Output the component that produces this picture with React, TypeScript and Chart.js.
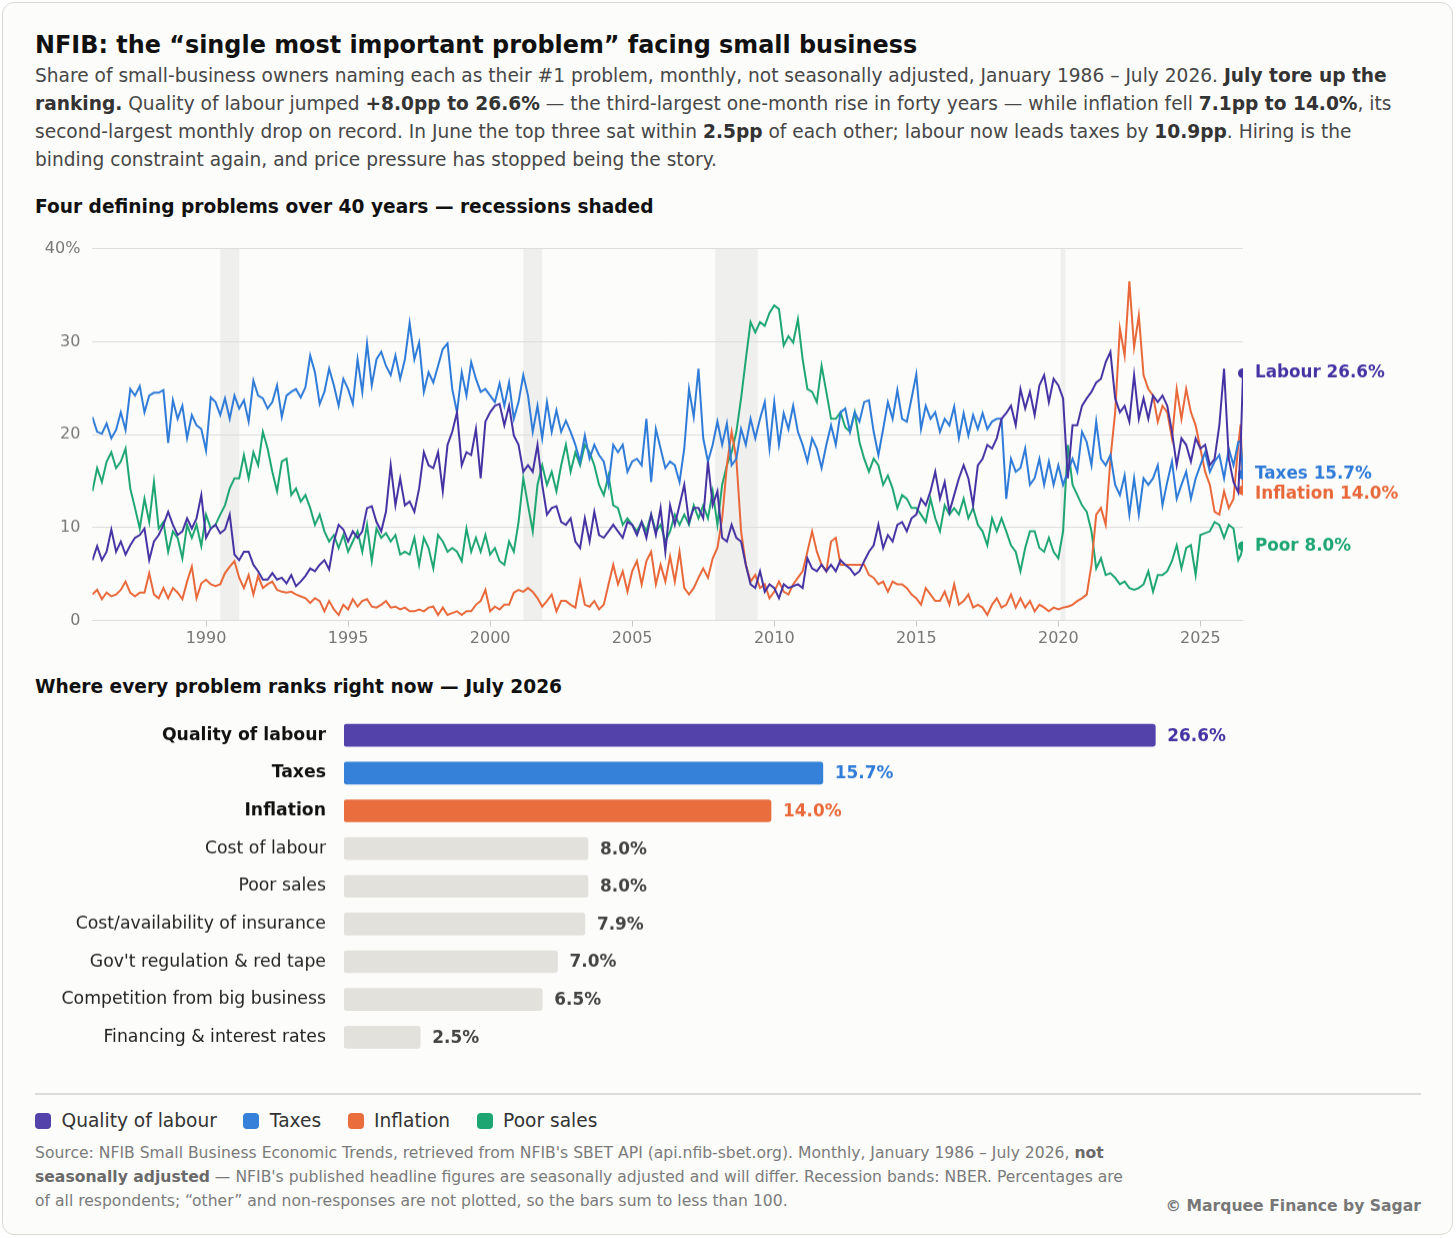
import { useEffect, useRef } from 'react';
import { Chart, registerables } from 'chart.js';

Chart.register(...registerables);
Chart.defaults.font.family = '"DejaVu Sans", sans-serif';

// ---- line chart data (every second month Jan 1986 – May 2026, then Jun & Jul 2026) ----
const LABOUR = [
  6.5, 8.0, 6.5, 7.4, 9.8, 7.4,
  8.5, 7.1, 8.1, 8.9, 9.2, 9.9,
  6.5, 8.5, 9.2, 10.3, 11.7, 10.3,
  9.2, 9.6, 11.0, 9.9, 11.0, 13.5,
  8.9, 9.9, 10.3, 9.4, 9.8, 11.4,
  7.1, 6.5, 7.4, 7.4, 6.0, 5.3,
  4.4, 4.4, 5.1, 4.4, 4.6, 4.0,
  4.9, 3.7, 4.2, 4.8, 5.6, 5.3,
  6.0, 6.5, 5.5, 8.5, 10.3, 9.8,
  8.5, 9.6, 8.9, 9.6, 12.1, 12.3,
  10.6, 9.6, 11.7, 16.7, 12.4, 15.3,
  12.4, 12.8, 11.7, 14.2, 18.1, 16.7,
  16.4, 18.1, 13.9, 18.9, 20.3, 22.4,
  16.7, 18.1, 17.8, 20.6, 15.3, 21.4,
  22.4, 23.1, 23.3, 21.0, 23.1, 19.9,
  18.9, 16.0, 16.7, 16.0, 18.9, 14.6,
  11.4, 12.1, 12.3, 10.6, 10.3, 11.0,
  8.5, 7.8, 11.0, 8.5, 11.7, 9.2,
  8.9, 9.6, 10.3, 9.6, 8.9, 10.6,
  10.3, 9.2, 10.6, 8.9, 11.4, 9.2,
  12.1, 7.4, 12.4, 10.3, 12.4, 14.6,
  10.6, 12.1, 12.1, 11.0, 17.1, 12.4,
  13.9, 8.9, 8.5, 10.3, 8.9, 8.5,
  6.0, 3.9, 3.5, 5.3, 3.1, 3.9,
  3.5, 2.4, 3.9, 3.5, 3.7, 3.9,
  3.5, 6.7, 5.6, 5.3, 6.0, 5.3,
  6.0, 5.3, 6.5, 6.0, 5.6, 4.9,
  5.3, 6.4, 7.4, 8.1, 10.3, 7.8,
  9.2, 8.5, 10.3, 10.6, 9.6, 11.0,
  11.4, 13.1, 12.4, 13.9, 16.0, 13.1,
  14.9, 11.7, 13.5, 15.3, 16.7, 15.3,
  12.4, 16.7, 17.4, 18.9, 18.5, 19.6,
  21.7, 22.3, 23.1, 21.0, 24.9, 22.8,
  24.6, 22.1, 25.3, 26.4, 23.5, 26.0,
  25.3, 23.9, 15.3, 21.0, 21.0, 23.1,
  23.9, 24.6, 25.6, 26.0, 27.8, 28.9,
  23.9, 22.4, 23.1, 21.4, 26.4, 21.7,
  23.9, 21.7, 24.2, 23.5, 24.2, 23.1,
  20.3, 16.7, 19.6, 18.9, 17.1, 19.6,
  18.5, 18.9, 16.7, 17.4, 21.0, 27.1,
  17.4, 14.9, 13.8, 18.6, 26.6,
];

const TAXES = [
  21.9, 20.3, 20.1, 21.2, 19.6, 20.5,
  22.4, 20.5, 24.9, 24.2, 25.2, 22.4,
  24.2, 24.5, 24.5, 24.8, 19.1, 23.7,
  21.7, 23.1, 19.6, 22.1, 21.0, 20.6,
  18.3, 24.0, 23.5, 22.1, 23.9, 21.7,
  24.2, 22.8, 23.7, 21.4, 25.8, 24.2,
  23.9, 22.8, 23.5, 25.3, 21.9, 24.2,
  24.6, 24.9, 24.0, 25.1, 28.5, 26.7,
  23.3, 24.6, 27.1, 25.3, 23.1, 26.0,
  24.9, 23.3, 28.1, 24.6, 29.8, 25.3,
  28.1, 28.9, 27.4, 26.4, 28.5, 26.0,
  28.1, 32.0, 28.1, 29.9, 24.6, 26.7,
  25.6, 27.4, 29.2, 29.8, 24.9, 22.4,
  26.7, 24.2, 27.8, 26.0, 24.6, 24.9,
  24.2, 23.5, 25.5, 23.1, 25.6, 21.7,
  23.5, 26.4, 24.2, 20.3, 23.1, 19.6,
  23.5, 20.3, 22.6, 20.3, 21.5, 20.3,
  18.9, 17.1, 19.9, 17.4, 18.9, 17.8,
  17.1, 14.6, 18.9, 18.1, 18.9, 16.0,
  17.1, 17.4, 16.7, 21.7, 14.9, 20.6,
  18.5, 16.4, 17.1, 16.7, 14.9, 18.5,
  24.9, 21.9, 27.1, 19.6, 17.1, 18.9,
  21.4, 18.9, 21.2, 16.7, 17.4, 20.6,
  18.9, 21.7, 19.6, 21.7, 23.5, 18.5,
  23.5, 18.9, 22.3, 20.6, 23.1, 20.3,
  18.9, 17.1, 19.6, 18.5, 16.4, 18.9,
  21.0, 18.9, 22.4, 22.8, 20.3, 22.4,
  21.4, 23.5, 23.7, 20.3, 17.8, 20.6,
  23.5, 21.7, 24.8, 21.7, 21.4, 23.9,
  26.5, 20.6, 23.1, 21.7, 22.4, 20.3,
  21.7, 21.0, 23.0, 19.6, 22.3, 19.9,
  22.1, 20.6, 22.3, 20.6, 21.4, 21.7,
  21.7, 13.1, 17.4, 16.0, 16.4, 18.5,
  14.6, 15.3, 17.4, 14.6, 17.1, 14.6,
  16.7, 14.6, 16.0, 17.4, 16.0, 20.3,
  19.2, 16.7, 21.4, 17.4, 16.7, 17.8,
  14.6, 13.5, 15.6, 11.4, 15.3, 11.4,
  15.3, 14.6, 15.3, 16.7, 12.4, 14.9,
  17.1, 13.1, 14.6, 16.0, 13.1, 15.3,
  16.7, 18.1, 16.0, 17.1, 17.8, 15.3,
  18.5, 16.7, 19.2, 19.3, 15.7,
];

const INFLATION = [
  2.8, 3.3, 2.3, 3.0, 2.6, 2.8,
  3.3, 4.2, 3.0, 2.6, 3.0, 3.0,
  5.1, 2.8, 2.4, 3.5, 2.4, 3.5,
  3.0, 2.3, 4.2, 5.8, 2.4, 4.0,
  4.4, 3.9, 3.7, 3.9, 5.1, 5.8,
  6.4, 4.6, 3.5, 4.9, 2.8, 4.8,
  3.5, 3.9, 4.2, 3.3, 3.1, 3.0,
  3.1, 2.8, 2.6, 2.4, 1.9, 2.4,
  2.1, 1.0, 2.1, 1.2, 0.6, 1.7,
  1.2, 2.3, 1.5, 2.1, 2.3, 1.5,
  1.4, 1.7, 2.1, 1.4, 1.5, 1.2,
  1.4, 1.0, 1.0, 1.2, 1.0, 1.4,
  1.5, 0.6, 1.4, 0.6, 0.8, 1.0,
  0.6, 1.0, 1.0, 1.7, 2.1, 3.3,
  1.0, 1.5, 1.2, 1.7, 1.7, 3.0,
  3.3, 3.1, 3.5, 3.1, 2.4, 1.5,
  2.1, 2.8, 1.0, 2.1, 2.1, 1.7,
  1.4, 4.2, 1.7, 1.5, 2.1, 1.2,
  1.7, 3.9, 6.0, 3.9, 5.3, 3.1,
  5.3, 6.4, 3.9, 6.4, 7.4, 3.9,
  6.0, 4.2, 6.9, 4.2, 7.4, 3.5,
  2.8, 3.5, 4.6, 5.6, 4.6, 6.7,
  7.8, 11.0, 16.7, 20.3, 17.4, 9.6,
  6.0, 4.2, 4.9, 3.5, 3.9, 2.4,
  3.1, 4.2, 3.1, 2.8, 3.9, 4.6,
  5.3, 7.4, 9.6, 7.4, 6.0, 5.3,
  8.5, 8.9, 6.0, 6.0, 6.0, 6.0,
  6.0, 6.0, 4.9, 4.6, 3.9, 4.2,
  3.1, 4.2, 3.9, 3.9, 3.5, 2.8,
  2.4, 1.7, 3.5, 2.8, 2.1, 2.1,
  3.1, 1.7, 3.9, 1.7, 2.1, 2.8,
  1.4, 1.7, 1.4, 0.6, 1.7, 2.4,
  1.4, 1.7, 2.8, 1.4, 2.4, 1.4,
  2.1, 1.0, 1.7, 1.4, 1.0, 1.4,
  1.2, 1.4, 1.5, 1.7, 2.1, 2.4,
  2.8, 6.0, 11.4, 12.1, 10.3, 17.4,
  22.4, 31.4, 28.5, 36.5, 29.4, 32.8,
  26.4, 24.9, 24.2, 21.4, 23.1, 22.4,
  19.6, 24.9, 21.7, 24.9, 22.4, 21.0,
  18.5, 16.0, 14.6, 11.7, 11.4, 13.9,
  12.1, 13.1, 18.9, 21.1, 14.0,
];

const POOR_SALES = [
  13.9, 16.4, 14.9, 17.1, 18.1, 16.4,
  17.1, 18.5, 14.2, 12.1, 9.9, 13.1,
  10.6, 14.9, 9.9, 10.6, 7.4, 9.6,
  8.9, 6.7, 10.3, 8.9, 10.3, 8.0,
  11.4, 9.9, 10.3, 11.4, 12.4, 14.2,
  15.3, 15.3, 17.8, 15.3, 18.1, 16.7,
  20.3, 18.5, 16.0, 13.9, 17.1, 17.4,
  13.5, 14.2, 12.8, 13.5, 12.1, 10.3,
  11.4, 9.6, 8.5, 9.2, 7.8, 9.2,
  7.4, 8.5, 9.6, 7.4, 10.3, 6.4,
  9.9, 8.9, 9.4, 8.5, 9.2, 7.1,
  7.4, 7.1, 8.9, 6.0, 8.9, 7.8,
  5.6, 9.2, 8.5, 7.4, 7.8, 7.4,
  6.4, 9.9, 7.4, 8.9, 7.4, 9.2,
  7.1, 7.8, 6.4, 6.0, 8.5, 7.4,
  10.6, 15.3, 12.4, 9.6, 14.6, 16.7,
  14.6, 16.0, 13.9, 16.7, 18.9, 16.0,
  18.1, 16.7, 18.9, 18.1, 16.7, 14.6,
  13.5, 15.6, 12.4, 12.1, 10.3, 11.0,
  10.3, 9.6, 10.6, 9.6, 11.4, 9.6,
  10.3, 8.5, 9.6, 11.4, 10.3, 11.4,
  10.3, 12.4, 11.0, 12.4, 11.0, 13.9,
  10.3, 14.6, 16.7, 18.1, 20.3, 23.9,
  28.1, 32.1, 31.0, 32.1, 31.7, 33.1,
  33.9, 33.5, 29.6, 30.6, 29.9, 32.4,
  28.1, 24.9, 24.6, 23.5, 27.4, 24.6,
  21.7, 21.7, 22.4, 20.8, 20.3, 22.4,
  19.2, 17.4, 16.0, 17.4, 16.7, 14.6,
  15.6, 14.2, 12.1, 13.5, 13.1, 12.1,
  12.1, 11.4, 10.6, 13.1, 11.0, 9.6,
  12.4, 11.4, 12.1, 11.4, 13.1, 11.0,
  12.1, 10.3, 9.6, 8.1, 11.0, 9.6,
  11.0, 9.6, 8.1, 7.4, 5.3, 7.8,
  9.6, 9.6, 7.8, 7.4, 8.9, 7.4,
  6.7, 9.6, 18.9, 14.6, 13.5, 12.4,
  11.7, 9.6, 5.6, 6.7, 4.9, 5.1,
  4.6, 3.9, 4.2, 3.5, 3.3, 3.5,
  3.9, 5.3, 3.1, 4.9, 4.9, 5.3,
  6.4, 8.1, 5.6, 7.8, 8.1, 4.9,
  9.2, 9.4, 9.6, 10.6, 10.3, 8.9,
  10.3, 9.9, 6.5, 7.0, 8.0,
];

// months since Jan 1986 for each value above
const MONTH_INDEX = Array.from({ length: 243 }, (_, i) => i * 2).concat([485, 486]);

const SERIES_NAMES = ['Quality of labour', 'Taxes', 'Inflation', 'Poor sales'];
const SHORT_NAMES = ['Labour', 'Taxes', 'Inflation', 'Poor'];
const SERIES_VALUES = [LABOUR, TAXES, INFLATION, POOR_SALES];
const LINE_COLORS = ['#4633a3', '#2f7bd8', '#e8683a', '#1ea672'];

const X_TICKS = [1990, 1995, 2000, 2005, 2010, 2015, 2020, 2025];
const Y_TICKS = [0, 10, 20, 30, 40];

// NBER recessions (decimal years)
const RECESSION_START = [1990.5, 2001.17, 2007.92, 2020.08];
const RECESSION_END = [1991.17, 2001.83, 2009.42, 2020.25];

// ---- bar chart data ----
const BAR_LABELS = [
  'Quality of labour',
  'Taxes',
  'Inflation',
  'Cost of labour',
  'Poor sales',
  'Cost/availability of insurance',
  "Gov't regulation & red tape",
  'Competition from big business',
  'Financing & interest rates',
];
const BAR_VALUES = [26.6, 15.7, 14.0, 8.0, 8.0, 7.9, 7.0, 6.5, 2.5];
const BAR_COLORS = ['#5342aa', '#3580d8', '#e96d3d'];
const BAR_TEXT_COLORS = ['#4633a3', '#2f7bd8', '#e8683a'];
const GREY_BAR = '#e3e1dc';

const FONT = '"DejaVu Sans", sans-serif';

const recessionBands = {
  id: 'recessionBands',
  beforeDraw(chart: any) {
    const { ctx, chartArea, scales } = chart;
    ctx.save();
    ctx.fillStyle = '#efefed';
    RECESSION_START.forEach((s, i) => {
      const x0 = scales.x.getPixelForValue(s);
      const x1 = scales.x.getPixelForValue(RECESSION_END[i]);
      ctx.fillRect(x0, chartArea.top, x1 - x0, chartArea.bottom - chartArea.top);
    });
    ctx.restore();
  },
};

const endLabels = {
  id: 'endLabels',
  afterDatasetsDraw(chart: any) {
    const { ctx } = chart;
    const items = chart.data.datasets.map((ds: any, i: number) => {
      const meta = chart.getDatasetMeta(i);
      const pt = meta.data[meta.data.length - 1];
      const v = ds.data[ds.data.length - 1].y;
      return { x: pt.x, y: pt.y, text: `${SHORT_NAMES[i]} ${v.toFixed(1)}%`, color: LINE_COLORS[i] };
    });
    items.sort((a: any, b: any) => a.y - b.y);
    for (let k = 1; k < items.length; k++) {
      if (items[k].y - items[k - 1].y < 20) items[k].y = items[k - 1].y + 20;
    }
    ctx.save();
    ctx.font = `bold 16.8px ${FONT}`;
    ctx.textBaseline = 'middle';
    ctx.textAlign = 'left';
    items.forEach((it: any) => {
      ctx.fillStyle = it.color;
      ctx.fillText(it.text, it.x + 12, it.y);
    });
    ctx.restore();
  },
};

const barValueLabels = {
  id: 'barValueLabels',
  afterDatasetsDraw(chart: any) {
    const { ctx } = chart;
    const meta = chart.getDatasetMeta(0);
    ctx.save();
    ctx.font = `bold 16.9px ${FONT}`;
    ctx.textBaseline = 'middle';
    ctx.textAlign = 'left';
    meta.data.forEach((bar: any, i: number) => {
      ctx.fillStyle = BAR_TEXT_COLORS[i] || '#444';
      ctx.fillText(`${BAR_VALUES[i].toFixed(1)}%`, bar.x + 12, bar.y + 1);
    });
    ctx.restore();
  },
};

function LineChart() {
  const ref = useRef<HTMLCanvasElement>(null);
  useEffect(() => {
    if (!ref.current) return;
    const chart = new Chart(ref.current, {
      type: 'line',
      data: {
        datasets: SERIES_VALUES.map((vals, s) => ({
          label: SERIES_NAMES[s],
          data: vals.map((v, i) => ({ x: 1986 + MONTH_INDEX[i] / 12, y: v })),
          borderColor: LINE_COLORS[s],
          backgroundColor: LINE_COLORS[s],
          borderWidth: 2,
          tension: 0,
          pointRadius: (c: any) => (c.dataIndex === vals.length - 1 ? 4 : 0),
          pointHoverRadius: 0,
        })),
      },
      options: {
        animation: false,
        responsive: true,
        maintainAspectRatio: false,
        layout: { padding: { top: 0, right: 178, left: 0, bottom: 0 } },
        plugins: { legend: { display: false }, tooltip: { enabled: false } },
        scales: {
          x: {
            type: 'linear',
            min: 1986,
            max: 2026.5,
            afterBuildTicks: (axis: any) => {
              axis.ticks = X_TICKS.map((v) => ({ value: v }));
            },
            afterFit: (axis: any) => {
              axis.height = 40;
            },
            grid: { drawOnChartArea: false, drawTicks: true, tickLength: 6, color: '#c9c9c9' },
            border: { display: false },
            ticks: { color: '#777', font: { size: 16 }, padding: 3, maxRotation: 0, callback: (v: any) => String(v) },
          },
          y: {
            min: 0,
            max: 40,
            afterBuildTicks: (axis: any) => {
              axis.ticks = Y_TICKS.map((v) => ({ value: v }));
            },
            afterFit: (axis: any) => {
              axis.width = 57.4;
            },
            grid: { color: '#dcdcdc', drawTicks: false },
            border: { display: false },
            ticks: {
              color: '#777',
              font: { size: 16 },
              padding: 12,
              callback: (v: any) => (v === 40 ? '40%' : String(v)),
            },
          },
        },
      },
      plugins: [recessionBands, endLabels],
    });
    return () => chart.destroy();
  }, []);
  return (
    <div style={{ position: 'absolute', left: 35, top: 227.4, width: 1386, height: 432.6 }}>
      <canvas ref={ref} />
    </div>
  );
}

function BarChart() {
  const ref = useRef<HTMLCanvasElement>(null);
  useEffect(() => {
    if (!ref.current) return;
    const chart = new Chart(ref.current, {
      type: 'bar',
      data: {
        labels: BAR_LABELS,
        datasets: [
          {
            data: BAR_VALUES,
            backgroundColor: BAR_VALUES.map((_, i) => BAR_COLORS[i] || GREY_BAR),
            barThickness: 22,
            borderRadius: 3,
            borderSkipped: false,
          },
        ],
      },
      options: {
        indexAxis: 'y',
        animation: false,
        responsive: true,
        maintainAspectRatio: false,
        layout: { padding: { top: 0, bottom: 0, right: 101, left: 0 } },
        plugins: { legend: { display: false }, tooltip: { enabled: false } },
        scales: {
          x: { display: false, min: 0, max: 32 },
          y: {
            afterFit: (axis: any) => {
              axis.width = 309;
            },
            grid: { display: false, drawTicks: false },
            border: { display: false },
            ticks: {
              padding: 18,
              color: (c: any) => (c.index < 3 ? '#111' : '#222'),
              font: (c: any) => ({ size: 17.3, weight: c.index < 3 ? 'bold' : 'normal', family: FONT }),
            },
          },
        },
      },
      plugins: [barValueLabels],
    });
    return () => chart.destroy();
  }, []);
  return (
    <div style={{ position: 'absolute', left: 35, top: 688.3, width: 1386, height: 395.5 }}>
      <canvas ref={ref} />
    </div>
  );
}

const abs = (left: number, top: number, extra: any = {}) => ({ position: 'absolute' as const, left, top, ...extra });

export default function App() {
  return (
    <div style={{ position: 'absolute', left: 0, top: 0, width: 1456, height: 1238, fontFamily: FONT, background: '#fff' }}>
      <div
        style={abs(2, 2, {
          width: 1451,
          height: 1233,
          boxSizing: 'border-box',
          background: '#fcfcfa',
          border: '1px solid #d9d9d6',
          borderRadius: 12,
        })}
      />
      <div style={abs(35, 31, { fontSize: 23.9, fontWeight: 'bold', color: '#111', lineHeight: '28px', whiteSpace: 'nowrap' })}>
        NFIB: the “single most important problem” facing small business
      </div>
      <div style={abs(35, 62, { width: 1370, fontSize: 18.6, lineHeight: '28px', color: '#474747' })}>
        Share of small-business owners naming each as their #1 problem, monthly, not seasonally adjusted, January 1986 – July
        2026. <b style={{ color: '#333' }}>July tore up the ranking.</b> Quality of labour jumped{' '}
        <b style={{ color: '#333' }}>+8.0pp to 26.6%</b> — the third-largest one-month rise in forty years — while inflation
        fell <b style={{ color: '#333' }}>7.1pp to 14.0%</b>, its second-largest monthly drop on record. In June the top three
        sat within <b style={{ color: '#333' }}>2.5pp</b> of each other; labour now leads taxes by{' '}
        <b style={{ color: '#333' }}>10.9pp</b>. Hiring is the binding constraint again, and price pressure has stopped being
        the story.
      </div>
      <div style={abs(35, 195, { fontSize: 18.6, fontWeight: 'bold', color: '#111', lineHeight: '24px', whiteSpace: 'nowrap' })}>
        Four defining problems over 40 years — recessions shaded
      </div>
      <div style={abs(35, 675, { fontSize: 18.6, fontWeight: 'bold', color: '#111', lineHeight: '24px', whiteSpace: 'nowrap' })}>
        Where every problem ranks right now — July 2026
      </div>
      <LineChart />
      <BarChart />
      <div style={abs(35, 1093, { width: 1386, height: 0, borderTop: '2px solid #dedcd8' })} />
      <div style={abs(35, 1109, { display: 'flex', alignItems: 'center', fontSize: 18.6, color: '#333', lineHeight: '24px' })}>
        {SERIES_NAMES.map((n, i) => (
          <div key={n} style={{ display: 'flex', alignItems: 'center', marginRight: 26.5 }}>
            <span
              style={{ width: 16, height: 16, borderRadius: 4, background: BAR_COLORS[i] || LINE_COLORS[i], marginRight: 10.5, display: 'inline-block' }}
            />
            {n}
          </div>
        ))}
      </div>
      <div style={abs(35, 1141, { width: 1098, fontSize: 15.6, lineHeight: '24px', color: '#7a7a7a' })}>
        Source: NFIB Small Business Economic Trends, retrieved from NFIB's SBET API (api.nfib-sbet.org). Monthly, January 1986 –
        July 2026, <b style={{ color: '#6a6a6a' }}>not seasonally adjusted</b> — NFIB's published headline figures are seasonally
        adjusted and will differ. Recession bands: NBER. Percentages are of all respondents; “other” and non-responses are not
        plotted, so the bars sum to less than 100.
      </div>
      <div style={abs(1071, 1194, { width: 350, textAlign: 'right', fontSize: 15.6, fontWeight: 'bold', color: '#777', lineHeight: '24px' })}>
        © Marquee Finance by Sagar
      </div>
    </div>
  );
}
